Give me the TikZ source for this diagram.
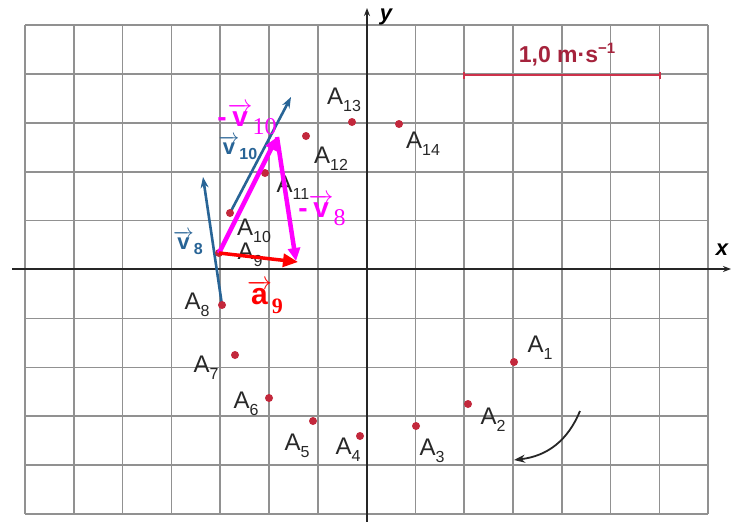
\documentclass[tikz,border=0pt]{standalone}
\usepackage{fontspec}
\setmainfont{Liberation Sans}
\newfontfamily\serifb{Liberation Serif}
\usetikzlibrary{arrows.meta}
\definecolor{gridc}{RGB}{145,145,145}
\definecolor{dotc}{RGB}{195,40,60}
\definecolor{vblue}{RGB}{40,100,150}
\definecolor{mag}{RGB}{255,0,255}
\definecolor{labc}{RGB}{40,40,40}
\definecolor{scalec}{RGB}{205,50,75}
\definecolor{scaletxt}{RGB}{165,35,60}
\newcommand\Alab[1]{A\raisebox{-0.3em}{\fontsize{16}{16}\selectfont #1}}
\newcommand\bvec[2]{$\overrightarrow{\mbox{\bfseries #1}}$\raisebox{-0.25em}{\fontsize{16}{16}\selectfont\bfseries #2}}
\newcommand\mvec[2]{-\kern1pt$\overrightarrow{\mbox{#1}}$\raisebox{-0.3em}{\serifb\mdseries\fontsize{24}{24}\selectfont #2}}
\tikzset{
  gridline/.style={draw=gridc, line width=1.6pt},
  axis/.style={draw=black!85, line width=1.8pt, -{Stealth[length=8pt,width=6pt]}},
  dot/.style={circle, fill=dotc, inner sep=0pt, minimum size=8pt},
  alab/.style={text=labc, font=\fontsize{24}{24}\selectfont, inner sep=0pt},
  bluevec/.style={draw=vblue, line width=2.6pt, -{Stealth[length=11pt,width=8pt]}},
  bluelab/.style={text=vblue, font=\fontsize{22}{22}\selectfont, inner sep=0pt},
  magvec/.style={draw=mag, line width=4.5pt, -{Triangle[length=13pt,width=12pt]}},
  redvec/.style={draw=red, line width=3.5pt, -{Triangle[length=15pt,width=13pt]}},
  maglab/.style={text=mag, inner sep=0pt, font=\fontsize{28}{28}\selectfont\bfseries},
}
\begin{document}
\begin{tikzpicture}[x=1pt,y=-1pt]
\useasboundingbox (0,0) rectangle (739,522);
\fill[white] (0,0) rectangle (739,522);
% grid
\foreach \i in {0,...,14} \draw[gridline] ({25+48.8*\i},25) -- ({25+48.8*\i},514);
\foreach \j in {0,...,10} \draw[gridline] (25,{25+48.9*\j}) -- (708,{25+48.9*\j});
% axes
\coordinate (xs) at (12,269);
\coordinate (xe) at (731,269);
\coordinate (ys) at (367,522);
\coordinate (ye) at (367,8);
\draw[axis] (xs) -- (xe);
\draw[axis] (ys) -- (ye);
\node[font=\fontsize{22}{22}\selectfont\bfseries\itshape, inner sep=0pt] (xl) at (722,250) {x};
\node[font=\fontsize{22}{22}\selectfont\bfseries\itshape, inner sep=0pt] (yl) at (386,17) {y};
% scale bar
\coordinate (s1) at (463,75);
\coordinate (s2) at (661,75);
\draw[draw=scalec, line width=2.4pt, {Bar[width=7pt]}-{Bar[width=7pt]}] (s1) -- (s2);
\node[text=scaletxt, font=\fontsize{23}{23}\selectfont\bfseries, inner sep=0pt] (sl) at (567,55) {1,0 m·s\raisebox{0.4em}{\fontsize{15}{15}\selectfont −1}};
% positions
\coordinate (p1) at (514,362);
\coordinate (p2) at (468,404);
\coordinate (p3) at (416,426);
\coordinate (p4) at (360,436);
\coordinate (p5) at (313,421);
\coordinate (p6) at (269,398);
\coordinate (p7) at (235,355);
\coordinate (p8) at (222,305);
\coordinate (p9) at (219,253);
\coordinate (p10) at (230,213);
\coordinate (p11) at (265,173);
\coordinate (p12) at (306,136);
\coordinate (p13) at (352,122);
\coordinate (p14) at (399,124);
% blue velocity vectors
\coordinate (v8tip) at (203,177);
\coordinate (v10tip) at (291,97);
\draw[bluevec] (p8) -- (v8tip);
\draw[bluevec] (p10) -- (v10tip);
\node[bluelab] (v8l) at (188,243) {\bvec{v}{8}};
\node[bluelab] (v10l) at (238,148) {\bvec{v}{10}};
% dots
\foreach \k in {1,...,14} \node[dot] (A\k) at (p\k) {};
% labels
\node[alab] (l1) at (540,348) {\Alab{1}};
\node[alab] (l2) at (493,420) {\Alab{2}};
\node[alab] (l3) at (432,451) {\Alab{3}};
\node[alab] (l4) at (348,450) {\Alab{4}};
\node[alab] (l5) at (297,446) {\Alab{5}};
\node[alab] (l6) at (246,404) {\Alab{6}};
\node[alab] (l7) at (206,368) {\Alab{7}};
\node[alab] (l8) at (197,305) {\Alab{8}};
\node[alab] (l9) at (250,255) {\Alab{9}};
\node[alab] (l10) at (254,231) {\Alab{10}};
\node[alab] (l11) at (293,188) {\Alab{11}};
\node[alab] (l12) at (331,159) {\Alab{12}};
\node[alab] (l13) at (344,100) {\Alab{13}};
\node[alab] (l14) at (423,144) {\Alab{14}};
% magenta and red vectors
\coordinate (m10tip) at (277,137);
\coordinate (m8tip) at (296,261);
\coordinate (a9tip) at (298,262);
\draw[magvec] (A9.center) -- (m10tip);
\draw[magvec] (m10tip) -- (m8tip);
\draw[redvec] (A9.center) -- (a9tip);
\node[maglab] (m10l) at (247,119) {\mvec{v}{10}};
\node[maglab] (m8l) at (322,210) {\mvec{v}{8}};
\node[text=red, inner sep=0pt, font=\fontsize{30}{30}\selectfont\bfseries] (a9l) at (265,297) {$\overrightarrow{\mbox{a}}$\raisebox{-0.3em}{\serifb\fontsize{22}{22}\selectfont\bfseries 9}};
% rotation arrow
\coordinate (c1) at (580,411);
\coordinate (c2) at (514,460);
\draw[line width=1.8pt, black!85, -{Stealth[length=11pt,width=8pt]}] (c1) .. controls (568,440) and (548,456) .. (c2);
\end{tikzpicture}
\end{document}
